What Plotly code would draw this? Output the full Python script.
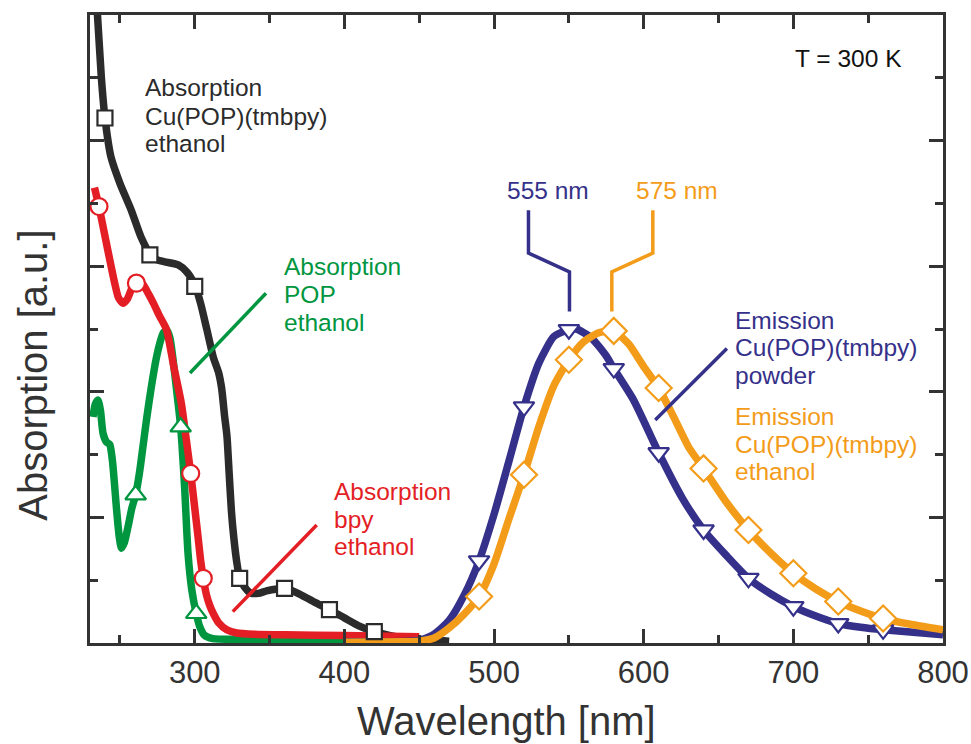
import plotly.graph_objects as go

# ---------------- data ----------------
cu_abs_x = [233, 235, 237.6, 240, 244, 250, 257.6, 264, 270.6, 275, 280, 289, 295, 300.4, 304, 308,
            312.4, 316, 318, 320, 321.5, 323, 324.5, 326, 328, 330, 333, 337, 342.5, 348, 355, 361,
            370, 380, 390, 400, 410, 420, 430, 440, 455, 470]
cu_abs_y = [1.06, 1.0, 0.90, 0.836, 0.774, 0.732, 0.689, 0.647, 0.618, 0.610, 0.607, 0.602, 0.59, 0.568,
            0.54, 0.50, 0.455, 0.43, 0.405, 0.36, 0.33, 0.27, 0.21, 0.17, 0.13, 0.103, 0.09, 0.08, 0.079,
            0.083, 0.086, 0.087, 0.078, 0.065, 0.053, 0.040, 0.027, 0.018, 0.012, 0.008, 0.005, 0.003]
cu_abs_mx = [240, 270, 300, 330, 360, 390, 420]
cu_abs_my = [0.836, 0.618, 0.568, 0.103, 0.087, 0.053, 0.018]

bpy_x = [233, 236, 241, 246.5, 249, 252, 255, 258, 261, 265, 268.8, 272.6, 276.6, 281, 286, 291, 294,
         297.3, 300, 302.2, 304, 305.7, 308, 310, 312.4, 316, 321.4, 328, 340, 360, 400, 450]
bpy_y = [0.725, 0.695, 0.636, 0.573, 0.55, 0.541, 0.548, 0.565, 0.573, 0.572, 0.557, 0.54, 0.52, 0.50,
         0.44, 0.382, 0.33, 0.270, 0.215, 0.169, 0.13, 0.103, 0.075, 0.06, 0.047, 0.032, 0.021, 0.016,
         0.014, 0.013, 0.012, 0.010]
bpy_mx = [236, 261, 297.3, 305.7]
bpy_my = [0.695, 0.573, 0.270, 0.103]

pop_x = [232, 233.5, 235.3, 237, 238.7, 241, 243.2, 245, 247.6, 249.5, 251, 253, 255.4, 258, 260.5, 263,
         265.4, 268, 271, 274, 276.6, 279, 281.5, 283.5, 285.5, 288, 290.6, 293.2, 295.5, 298, 301,
         303.5, 306.6, 312, 330, 400]
pop_y = [0.36, 0.38, 0.387, 0.37, 0.334, 0.32, 0.316, 0.29, 0.217, 0.17, 0.151, 0.16, 0.185, 0.215,
         0.236, 0.27, 0.313, 0.36, 0.408, 0.45, 0.477, 0.494, 0.498, 0.485, 0.451, 0.40, 0.344, 0.249,
         0.143, 0.085, 0.047, 0.025, 0.012, 0.007, 0.006, 0.006]
pop_mx = [260.5, 290.6, 301]
pop_my = [0.236, 0.344, 0.047]

em_powder_x = [400, 430, 450, 460, 470, 480, 490, 500, 510, 520, 530, 540, 550, 555, 565, 575, 580,
               593, 610, 626, 640, 655, 670, 685, 700, 715, 730, 745, 760, 780, 800]
em_powder_y = [0.002, 0.002, 0.004, 0.014, 0.036, 0.076, 0.131, 0.205, 0.29, 0.376, 0.446, 0.488, 0.499,
               0.50, 0.486, 0.457, 0.437, 0.388, 0.303, 0.23, 0.18, 0.14, 0.103, 0.078, 0.058, 0.043,
               0.031, 0.025, 0.021, 0.017, 0.013]
em_powder_mx = [490, 520, 550, 580, 610, 640, 670, 700, 730, 760]
em_powder_my = [0.131, 0.376, 0.499, 0.437, 0.303, 0.18, 0.103, 0.058, 0.031, 0.021]

em_eth_x = [400, 440, 450, 460, 470, 480, 490, 500, 510, 520, 530, 540, 550, 560, 570, 580, 590, 600,
            610, 620, 630, 640, 655, 670, 685, 700, 715, 730, 745, 760, 780, 800]
em_eth_y = [0.001, 0.002, 0.003, 0.008, 0.024, 0.046, 0.074, 0.126, 0.198, 0.268, 0.345, 0.41, 0.451,
            0.48, 0.494, 0.497, 0.476, 0.44, 0.406, 0.36, 0.312, 0.278, 0.225, 0.18, 0.143, 0.111,
            0.086, 0.066, 0.051, 0.039, 0.029, 0.021]
em_eth_mx = [490, 520, 550, 580, 610, 640, 670, 700, 730, 760]
em_eth_my = [0.074, 0.268, 0.451, 0.497, 0.406, 0.278, 0.18, 0.111, 0.066, 0.039]

x_ticks = [300, 400, 500, 600, 700, 800]

# ---------------- styling ----------------
FONT = "Liberation Sans, Arial, sans-serif"
AX = "#333333"
BLACK = "#2b2b2b"
RED = "#e31e24"
GREEN = "#00963f"
BLUE = "#35318a"
ORANGE = "#f39c1a"
LW = 7.5

fig = go.Figure()

lines = [
    (cu_abs_x, cu_abs_y, BLACK),
    (pop_x, pop_y, GREEN),
    (bpy_x, bpy_y, RED),
    (em_powder_x, em_powder_y, BLUE),
    (em_eth_x, em_eth_y, ORANGE),
]
for xs, ys, c in lines:
    fig.add_trace(go.Scatter(x=xs, y=ys, mode="lines",
                             line=dict(color=c, width=LW, shape="spline", smoothing=0.6),
                             showlegend=False, hoverinfo="skip"))

markers = [
    (cu_abs_mx, cu_abs_my, BLACK, "square", 15),
    (pop_mx, pop_my, GREEN, "triangle-up", 18),
    (bpy_mx, bpy_my, RED, "circle", 17),
    (em_powder_mx, em_powder_my, BLUE, "triangle-down", 18),
    (em_eth_mx, em_eth_my, ORANGE, "diamond", 20),
]
for xs, ys, c, sym, sz in markers:
    fig.add_trace(go.Scatter(x=xs, y=ys, mode="markers",
                             marker=dict(symbol=sym, size=sz, color="white", line=dict(color=c, width=2.2)),
                             showlegend=False, hoverinfo="skip"))

# pointer lines
def seg(pts, color, width=3.5):
    path = "M " + " L ".join(f"{px},{py}" for px, py in pts)
    fig.add_shape(type="path", path=path, xref="x", yref="y", line=dict(color=color, width=width))

seg([(347.6, 0.557), (296.8, 0.430)], GREEN)
seg([(381.5, 0.188), (325.4, 0.050)], RED)
seg([(655.6, 0.469), (607.7, 0.355)], BLUE)
seg([(523.0, 0.689), (523.0, 0.621), (550.4, 0.591), (550.4, 0.528)], BLUE)
seg([(606.1, 0.689), (606.1, 0.621), (578.7, 0.591), (578.7, 0.528)], ORANGE)

def label(lines_txt, x, ys, color, xanchor="left"):
    for t, y in zip(lines_txt, ys):
        fig.add_annotation(x=x, y=y, xref="x", yref="y", text=t, showarrow=False,
                           xanchor=xanchor, yanchor="middle",
                           font=dict(family=FONT, size=24.5, color=color))

label(["Absorption", "Cu(POP)(tmbpy)", "ethanol"], 265.4, [0.884, 0.839, 0.796], BLACK)
label(["Absorption", "POP", "ethanol"], 358.1, [0.599, 0.555, 0.511], GREEN)
label(["Absorption", "bpy", "ethanol"], 391.6, [0.241, 0.197, 0.153], RED)
label(["Emission", "Cu(POP)(tmbpy)", "powder"], 660, [0.514, 0.470, 0.426], BLUE)
label(["Emission", "Cu(POP)(tmbpy)", "ethanol"], 660, [0.360, 0.316, 0.273], ORANGE)
label(["555 nm"], 536.1, [0.72], BLUE, xanchor="center")
label(["575 nm"], 622.1, [0.72], ORANGE, xanchor="center")
label(["T = 300 K"], 737, [0.930], "#111111", xanchor="center")

# axis titles
fig.add_annotation(x=-0.067, y=0.427, xref="paper", yref="paper", text="Absorption [a.u.]",
                   textangle=-90, showarrow=False, xanchor="center", yanchor="middle",
                   font=dict(family=FONT, size=40, color=AX))
fig.add_annotation(x=0.488, y=-0.124, xref="paper", yref="paper", text="Wavelength [nm]",
                   showarrow=False, xanchor="center", yanchor="middle",
                   font=dict(family=FONT, size=40, color=AX))

fig.update_layout(
    width=971, height=744,
    margin=dict(l=90, r=28, t=15, b=101),
    paper_bgcolor="white", plot_bgcolor="white",
    font=dict(family=FONT, color=AX),
    xaxis=dict(range=[230, 800], tickvals=x_ticks, ticktext=[str(v) for v in x_ticks],
               automargin=False,
               showline=True, linewidth=3, linecolor=AX, mirror="ticks",
               ticks="inside", ticklen=14, tickwidth=3, tickcolor=AX,
               minor=dict(ticks="inside", ticklen=8, tickwidth=3, tickcolor=AX, dtick=50, tick0=250),
               showgrid=False, zeroline=False, tickfont=dict(family=FONT, size=31, color=AX)),
    yaxis=dict(range=[0, 1], dtick=0.2, tick0=0, showticklabels=False, automargin=False,
               showline=True, linewidth=3, linecolor=AX, mirror="ticks",
               ticks="inside", ticklen=14, tickwidth=3, tickcolor=AX,
               minor=dict(ticks="inside", ticklen=8, tickwidth=3, tickcolor=AX, dtick=0.1, tick0=0),
               showgrid=False, zeroline=False),
)

fig.write_html("out.html")
